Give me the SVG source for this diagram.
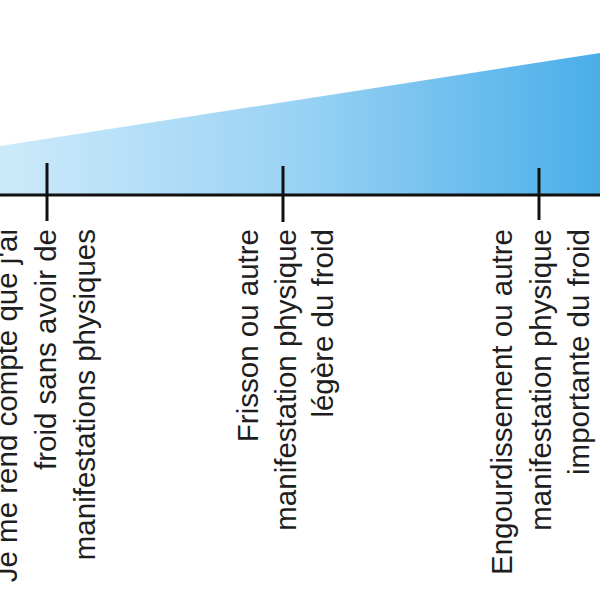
<svg xmlns="http://www.w3.org/2000/svg" width="600" height="600" viewBox="0 0 600 600">
  <defs>
    <linearGradient id="wedgeGrad" x1="0" y1="0" x2="1" y2="0">
      <stop offset="0" stop-color="#cdeafa"/>
      <stop offset="0.5" stop-color="#99d2f4"/>
      <stop offset="1" stop-color="#4aaee9"/>
    </linearGradient>
  </defs>
  <style>
    .lbl { font-family: "Liberation Sans", Arial, sans-serif; font-size: 29.5px; fill: #1e1e1e; text-anchor: end; }
    .tick { stroke: #111; stroke-width: 3; fill: none; }
    .axis { stroke: #111; stroke-width: 3; fill: none; }
  </style>
  <polygon id="wedge" points="0,146 600,53 600,195 0,195" fill="url(#wedgeGrad)"/>
  <g id="connectors">
    <line class="axis" x1="0" y1="195" x2="600" y2="195"/>
  </g>
  <g id="node-1">
    <line class="tick" x1="47" y1="163" x2="47" y2="221"/>
    <g transform="translate(0,229) rotate(-90)">
      <text class="lbl" x="0" y="17">Je me rend compte que j'ai</text>
      <text class="lbl" x="0" y="56">froid sans avoir de</text>
      <text class="lbl" x="0" y="95">manifestations physiques</text>
    </g>
  </g>
  <g id="node-2">
    <line class="tick" x1="283" y1="166" x2="283" y2="222"/>
    <g transform="translate(0,229) rotate(-90)">
      <text class="lbl" x="0" y="258">Frisson ou autre</text>
      <text class="lbl" x="0" y="296">manifestation physique</text>
      <text class="lbl" x="0" y="333">légère du froid</text>
    </g>
  </g>
  <g id="node-3">
    <line class="tick" x1="539" y1="168" x2="539" y2="220"/>
    <g transform="translate(0,229) rotate(-90)">
      <text class="lbl" x="0" y="512">Engourdissement ou autre</text>
      <text class="lbl" x="0" y="551">manifestation physique</text>
      <text class="lbl" x="0" y="589">importante du froid</text>
    </g>
  </g>
</svg>
